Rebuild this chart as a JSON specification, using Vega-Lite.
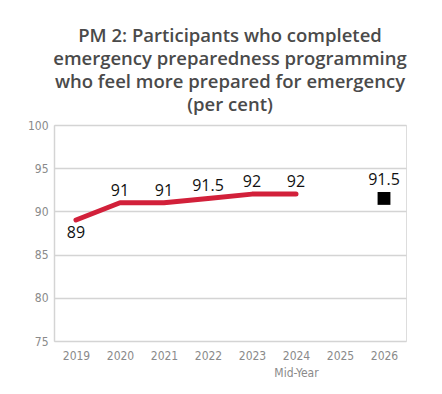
{
  "$schema": "https://vega.github.io/schema/vega-lite/v6.json",
  "autosize": {"type": "none"},
  "width": 352,
  "height": 216,
  "padding": {"left": 54, "top": 125, "right": 36, "bottom": 53},
  "background": "white",
  "title": {
    "text": ["PM 2: Participants who completed", "emergency preparedness programming", "who feel more prepared for emergency", "(per cent)"],
    "font": "Open Sans",
    "fontWeight": 600,
    "fontSize": 18.5,
    "lineHeight": 23,
    "color": "#4a4a4a",
    "anchor": "middle",
    "offset": 5
  },
  "datasets": {
    "actual": [
      {"year": "2019", "pct": 89, "pos": "below"},
      {"year": "2020", "pct": 91, "pos": "above"},
      {"year": "2021", "pct": 91, "pos": "above"},
      {"year": "2022", "pct": 91.5, "pos": "above"},
      {"year": "2023", "pct": 92, "pos": "above"},
      {"year": "2024", "pct": 92, "pos": "above"}
    ],
    "target": [
      {"year": "2026", "pct": 91.5}
    ]
  },
  "encoding": {
    "x": {
      "field": "year",
      "type": "ordinal",
      "scale": {"domain": ["2019", "2020", "2021", "2022", "2023", "2024", "2025", "2026"], "paddingInner": 0, "paddingOuter": 0},
      "axis": {
        "title": null,
        "labelAngle": 0,
        "ticks": false,
        "domain": false,
        "labelPadding": 9,
        "labelFont": "DejaVu Sans Condensed",
        "labelFontSize": 12,
        "labelColor": "#8a8a8a",
        "labelLineHeight": 17,
        "labelExpr": "datum.value == '2024' ? ['2024', 'Mid-Year'] : datum.value"
      }
    },
    "y": {
      "field": "pct",
      "type": "quantitative",
      "scale": {"domain": [75, 100], "nice": false, "zero": false},
      "axis": {
        "title": null,
        "values": [75, 80, 85, 90, 95, 100],
        "ticks": false,
        "domain": true,
        "domainColor": "#d4d4d4",
        "domainWidth": 1.5,
        "grid": true,
        "gridColor": "#d4d4d4",
        "gridWidth": 1.5,
        "labelPadding": 6,
        "labelFont": "DejaVu Sans Condensed",
        "labelFontSize": 12,
        "labelColor": "#8a8a8a"
      }
    }
  },
  "layer": [
    {
      "data": {"name": "actual"},
      "mark": {"type": "line", "color": "#d2203a", "strokeWidth": 5, "strokeCap": "round", "strokeJoin": "round"},
      "encoding": {}
    },
    {
      "data": {"name": "actual"},
      "transform": [{"filter": "datum.pos == 'above'"}],
      "mark": {"type": "text", "font": "Open Sans", "fontSize": 16, "color": "#111", "baseline": "alphabetic", "dy": -7},
      "encoding": {"text": {"field": "pct", "type": "quantitative", "format": "~g"}}
    },
    {
      "data": {"name": "actual"},
      "transform": [{"filter": "datum.pos == 'below'"}],
      "mark": {"type": "text", "font": "Open Sans", "fontSize": 16, "color": "#111", "baseline": "alphabetic", "dy": 18},
      "encoding": {"text": {"field": "pct", "type": "quantitative", "format": "~g"}}
    },
    {
      "data": {"name": "target"},
      "mark": {"type": "square", "color": "#000", "opacity": 1, "filled": true, "size": 165},
      "encoding": {}
    },
    {
      "data": {"name": "target"},
      "mark": {"type": "text", "font": "Open Sans", "fontSize": 16, "color": "#111", "baseline": "alphabetic", "dy": -13},
      "encoding": {"text": {"field": "pct", "type": "quantitative", "format": "~g"}}
    }
  ]
}
